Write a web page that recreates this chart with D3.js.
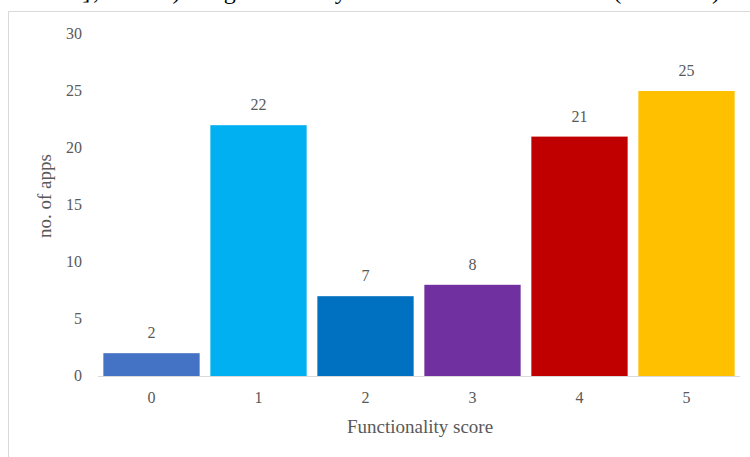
<!DOCTYPE html>
<html>
<head>
<meta charset="utf-8">
<script src="https://cdn.jsdelivr.net/npm/d3@7"></script>
<style>
  body { margin: 0; background: #fff; }
  svg { display: block; }
</style>
</head>
<body>
<svg id="chart" width="750" height="457"></svg>
<script>
var scores = ["0", "1", "2", "3", "4", "5"];
var apps = [2, 22, 7, 8, 21, 25];
var barColors = ["#4472C4", "#00B0F0", "#0070C0", "#7030A0", "#C00000", "#FFC000"];
var yTicks = [0, 5, 10, 15, 20, 25, 30];

var svg = d3.select("#chart");
var font = "'Liberation Serif', 'DejaVu Serif', serif";
var grey = "#595959";

// clipped line of body text above the chart
svg.append("text")
  .attr("x", -6)
  .attr("y", -1)
  .attr("font-family", font)
  .attr("font-size", 24)
  .attr("textLength", 726)
  .attr("lengthAdjust", "spacing")
  .attr("fill", "#000")
  .text("Table 5]; n = 1) targeted only one subcontent level (Table 6)");

// chart frame
svg.append("rect")
  .attr("x", 8.5)
  .attr("y", 11.5)
  .attr("width", 760)
  .attr("height", 460)
  .attr("fill", "#fff")
  .attr("stroke", "#d9d9d9")
  .attr("stroke-width", 1);

var x = d3.scaleBand().domain(scores).range([98, 740]).paddingInner(0.1).paddingOuter(0.05);
var y = d3.scaleLinear().domain([0, 30]).range([376, 34]);

svg.selectAll("rect.bar").data(apps).enter()
  .append("rect")
  .attr("class", "bar")
  .attr("x", function(d, i){ return x(scores[i]); })
  .attr("y", function(d){ return y(d); })
  .attr("width", x.bandwidth())
  .attr("height", function(d){ return y(0) - y(d); })
  .attr("fill", function(d, i){ return barColors[i]; });

svg.selectAll("text.val").data(apps).enter()
  .append("text")
  .attr("class", "val")
  .attr("x", function(d, i){ return x(scores[i]) + x.bandwidth() / 2; })
  .attr("y", function(d){ return y(d) - 15; })
  .attr("text-anchor", "middle")
  .attr("font-family", font)
  .attr("font-size", 16)
  .attr("fill", grey)
  .text(function(d){ return d; });

// baseline
svg.append("line")
  .attr("x1", 98).attr("x2", 740)
  .attr("y1", y(0) + 0.5).attr("y2", y(0) + 0.5)
  .attr("stroke", "#d9d9d9");

// y tick labels
svg.selectAll("text.ytick").data(yTicks).enter()
  .append("text")
  .attr("class", "ytick")
  .attr("x", 82)
  .attr("y", function(d){ return y(d) + 5; })
  .attr("text-anchor", "end")
  .attr("font-family", font)
  .attr("font-size", 16)
  .attr("fill", grey)
  .text(function(d){ return d; });

// x tick labels
svg.selectAll("text.xtick").data(scores).enter()
  .append("text")
  .attr("class", "xtick")
  .attr("x", function(d){ return x(d) + x.bandwidth() / 2; })
  .attr("y", 403)
  .attr("text-anchor", "middle")
  .attr("font-family", font)
  .attr("font-size", 16)
  .attr("fill", grey)
  .text(function(d){ return d; });

svg.append("text")
  .attr("x", 420)
  .attr("y", 433)
  .attr("text-anchor", "middle")
  .attr("font-family", font)
  .attr("font-size", 19)
  .attr("fill", grey)
  .text("Functionality score");

svg.append("text")
  .attr("transform", "translate(51,196) rotate(-90)")
  .attr("text-anchor", "middle")
  .attr("font-family", font)
  .attr("font-size", 19)
  .attr("fill", grey)
  .text("no. of apps");
</script>
</body>
</html>
